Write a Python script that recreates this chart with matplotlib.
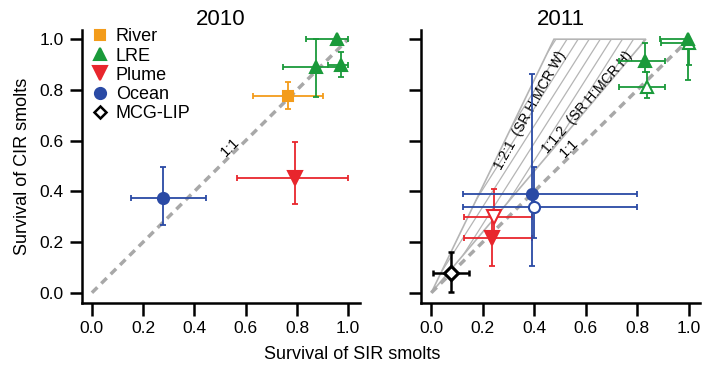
import numpy as np
import matplotlib
matplotlib.use("Agg")
import matplotlib.pyplot as plt
from matplotlib.patches import Polygon
from matplotlib.collections import LineCollection

plt.rcParams['font.family'] = ['Liberation Sans', 'DejaVu Sans']

# ---- data (x = SIR survival, y = CIR survival, with error bar ends) ----
# 2010
river10 = dict(x=[0.764], y=[0.776], xlo=[0.628], xhi=[0.90], ylo=[0.723], yhi=[0.83])
lre10 = dict(x=[0.958, 0.874, 0.971], y=[1.0, 0.891, 0.898],
             xlo=[0.835, 0.747, 0.92], xhi=[1.0, 0.975, 1.0],
             ylo=[0.99, 0.773, 0.849], yhi=[1.0, 1.0, 0.95])
plume10 = dict(x=[0.794], y=[0.451], xlo=[0.567], xhi=[1.0], ylo=[0.35], yhi=[0.596])
ocean10 = dict(x=[0.278], y=[0.375], xlo=[0.154], xhi=[0.444], ylo=[0.268], yhi=[0.495])

# 2011 filled symbols
lre11 = dict(x=[0.995, 0.829], y=[1.0, 0.913], xlo=[0.887, 0.728], xhi=[1.0, 0.909],
             ylo=[0.839, 0.871], yhi=[1.0, 0.983])
plume11 = dict(x=[0.234], y=[0.215], xlo=[0.127], xhi=[0.392], ylo=[0.106], yhi=[0.30])
ocean11 = dict(x=[0.392], y=[0.39], xlo=[0.124], xhi=[0.797], ylo=[0.104], yhi=[0.862])
mcg11 = dict(x=[0.075], y=[0.078], xlo=[0.006], xhi=[0.146], ylo=[0.001], yhi=[0.159])
# 2011 open symbols
lre11o = dict(x=[1.0, 0.838], y=[0.983, 0.812], xlo=[0.89, 0.728], xhi=[1.0, 0.909],
              ylo=[0.90, 0.767], yhi=[0.99, 0.87])
plume11o = dict(x=[0.243], y=[0.30], xlo=[0.127], xhi=[0.392], ylo=[0.215], yhi=[0.408])
ocean11o = dict(x=[0.398], y=[0.34], xlo=[0.124], xhi=[0.797], ylo=[0.215], yhi=[0.497])

# hatched region between the ratio lines
ratio_hi = 2.1   # 1:2:1 (SR H:MCR W)
ratio_lo = 1.2   # 1:1.2 (SR H:MCR H)

ticks = [0.0, 0.2, 0.4, 0.6, 0.8, 1.0]
tick_labels = ['0.0', '0.2', '0.4', '0.6', '0.8', '1.0']

c_river = '#f39c1b'
c_lre = '#1a9a3a'
c_plume = '#e8262d'
c_ocean = '#2a4aa5'
c_mcg = 'black'


def errpoint(ax, d, color, marker, ms, filled=True, label=None, lw=1.3, mew=1.5):
    x = np.array(d['x']); y = np.array(d['y'])
    xerr = [x - np.array(d['xlo']), np.array(d['xhi']) - x]
    yerr = [y - np.array(d['ylo']), np.array(d['yhi']) - y]
    ax.errorbar(x, y, xerr=np.abs(xerr), yerr=np.abs(yerr), fmt='none', ecolor=color,
                elinewidth=lw, capsize=2.5, capthick=lw, zorder=3)
    ax.plot(x, y, linestyle='', marker=marker, ms=ms, color=color,
            mfc=color if filled else 'white', mec=color, mew=mew,
            label=label, zorder=4)


def one_to_one(ax, lx, ly):
    ax.plot([0, 1], [0, 1], color='#a8a8a8', lw=2.5, ls=(0, (2.2, 1.6)), zorder=2)
    ax.text(lx, ly, '1:1', rotation=45, fontsize=10.5, ha='center', va='center',
            rotation_mode='anchor', zorder=5)


def style(ax):
    ax.set_xlim(-0.04, 1.045)
    ax.set_ylim(-0.04, 1.037)
    ax.set_xticks(ticks)
    ax.set_yticks(ticks)
    for s in ['top', 'right']:
        ax.spines[s].set_visible(False)
    for s in ['left', 'bottom']:
        ax.spines[s].set_linewidth(1.8)
    ax.tick_params(direction='out', length=9, width=1.8, labelsize=12.5, pad=4)


fig = plt.figure(figsize=(7.04, 3.68), dpi=100)
ax1 = fig.add_axes([0.116, 0.177, 0.395, 0.742])
ax2 = fig.add_axes([0.598, 0.177, 0.397, 0.742])

# ---- 2010 ----
style(ax1)
ax1.set_xticklabels(tick_labels)
ax1.set_yticklabels(tick_labels)
one_to_one(ax1, 0.54, 0.575)
errpoint(ax1, river10, c_river, 's', 7, label='River')
errpoint(ax1, lre10, c_lre, '^', 9, label='LRE')
errpoint(ax1, plume10, c_plume, 'v', 10, label='Plume')
errpoint(ax1, ocean10, c_ocean, 'o', 8, label='Ocean')
ax1.plot([], [], linestyle='', marker='D', ms=6, mfc='white', mec=c_mcg, mew=1.8, label='MCG-LIP')
h, l = ax1.get_legend_handles_labels()
ax1.legend(h, l, loc='upper left', bbox_to_anchor=(0.0, 1.045), frameon=False,
           fontsize=13, handlelength=0.8, handletextpad=0.5, labelspacing=0.12,
           borderaxespad=0.2)
ax1.set_title('2010', fontsize=16, pad=2)
ax1.set_ylabel('Survival of CIR smolts', fontsize=13, labelpad=6)

# ---- 2011 ----
style(ax2)
ax2.set_xticklabels(tick_labels)
ax2.set_yticklabels([])
poly = Polygon([(0, 0), (1 / ratio_hi, 1), (1 / ratio_lo, 1)], closed=True,
               facecolor='none', edgecolor='#b5b5b5', lw=1.2, zorder=1)
ax2.add_patch(poly)
# hatching: steep lines clipped to the region
hatch_slope = 1.6
offsets = np.arange(-0.7, 0.9, 0.043)
segs = [[(c, 0), (c + 1.1 / hatch_slope, 1.1)] for c in offsets]
hatch = LineCollection(segs, colors='#b5b5b5', linewidths=0.9, zorder=1)
hatch.set_clip_path(poly)
ax2.add_collection(hatch)
ax2.text(0.385, 0.72, '1:2:1  (SR H:MCR W)', rotation=61, fontsize=10,
         ha='center', va='center', rotation_mode='anchor')
ax2.text(0.605, 0.751, '1:1.2  (SR H:MCR H)', rotation=49, fontsize=10,
         ha='center', va='center', rotation_mode='anchor')
one_to_one(ax2, 0.535, 0.57)

errpoint(ax2, lre11o, c_lre, '^', 9, filled=False)
errpoint(ax2, plume11o, c_plume, 'v', 10, filled=False)
errpoint(ax2, ocean11o, c_ocean, 'o', 8, filled=False)
errpoint(ax2, lre11, c_lre, '^', 9)
errpoint(ax2, plume11, c_plume, 'v', 10)
errpoint(ax2, ocean11, c_ocean, 'o', 8)
errpoint(ax2, mcg11, c_mcg, 'D', 7, filled=False, lw=1.8, mew=2.2)
ax2.set_title('2011', fontsize=16, pad=2)

fig.text(0.5, 0.025, 'Survival of SIR smolts', ha='center', fontsize=13)

fig.savefig('out.png', dpi=100, facecolor='white')
